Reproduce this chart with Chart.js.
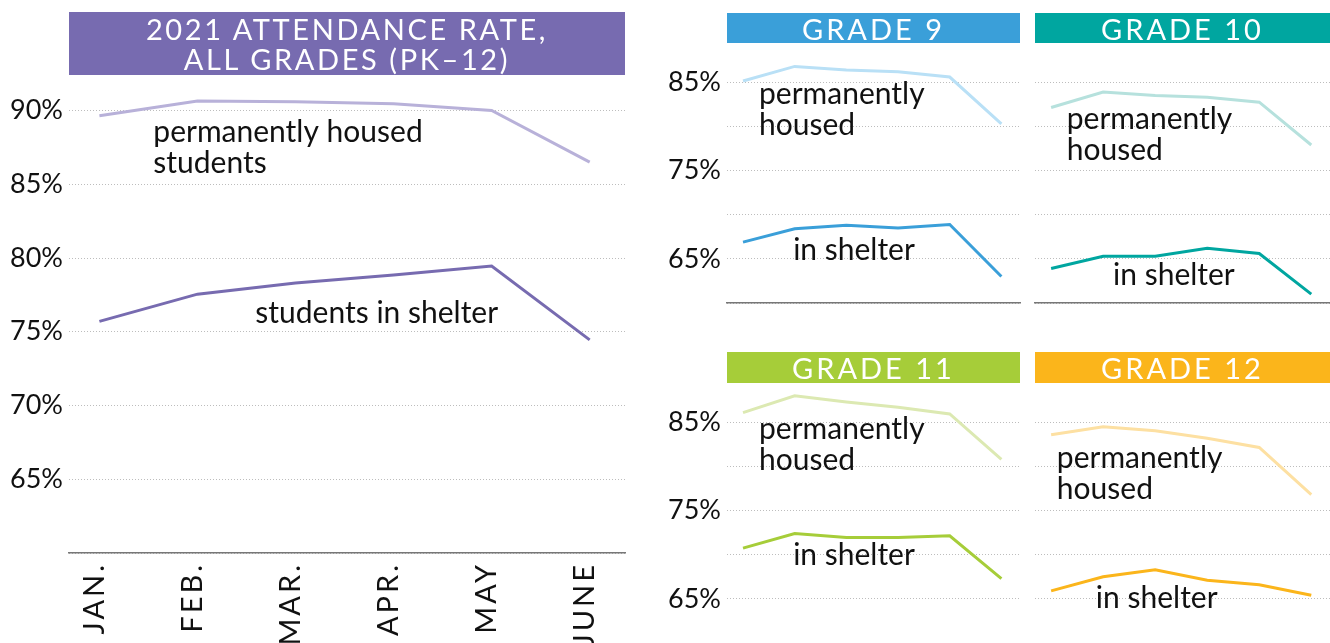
<!DOCTYPE html>
<html><head><meta charset="utf-8">
<script src="https://cdn.jsdelivr.net/npm/chart.js@4.4.1/dist/chart.umd.min.js"></script>
<style>
body{margin:0;width:1330px;height:643px;overflow:hidden;background:#fff;position:relative;font-family:Lato,"Open Sans",sans-serif}
canvas{position:absolute}
.hdr{position:absolute;color:#fff;text-align:center;font-family:Lato,sans-serif;font-size:29px;letter-spacing:3px;z-index:2;display:flex;align-items:center;justify-content:center;box-sizing:border-box}
</style></head><body>
<div class="hdr" style="left:69px;top:12px;width:556px;height:63px;background:#776bb0;line-height:30px;letter-spacing:2.6px">2021 ATTENDANCE RATE,<br>ALL GRADES (PK–12)</div>
<div class="hdr" style="left:727px;top:13px;width:293px;height:30px;background:#3a9fd9">GRADE 9</div>
<div class="hdr" style="left:1035px;top:13px;width:295px;height:30px;background:#00a6a0">GRADE 10</div>
<div class="hdr" style="left:727px;top:352px;width:293px;height:31px;background:#a6cd39">GRADE 11</div>
<div class="hdr" style="left:1035px;top:352px;width:295px;height:31px;background:#fbb51b">GRADE 12</div>

<canvas id="cAll" width="640" height="643" style="left:0;top:0"></canvas>
<canvas id="c9" width="370" height="330" style="left:660px;top:0"></canvas>
<canvas id="c10" width="300" height="330" style="left:1030px;top:0"></canvas>
<canvas id="c11" width="370" height="330" style="left:660px;top:340px"></canvas>
<canvas id="c12" width="300" height="330" style="left:1030px;top:340px"></canvas>

<script>
// ---- data ----
const months = ['JAN.', 'FEB.', 'MAR.', 'APR.', 'MAY', 'JUNE'];
const allHoused  = [89.65, 90.65, 90.6, 90.45, 90.0, 86.5];
const allShelter = [75.7, 77.55, 78.3, 78.85, 79.45, 74.45];
const g9Housed   = [85.15, 86.8, 86.4, 86.2, 85.6, 80.3];
const g9Shelter  = [66.9, 68.4, 68.8, 68.5, 68.9, 63.0];
const g10Housed  = [82.15, 83.9, 83.5, 83.3, 82.75, 77.9];
const g10Shelter = [63.9, 65.3, 65.3, 66.2, 65.6, 61.0];
const g11Housed  = [86.1, 88.0, 87.3, 86.7, 85.95, 80.8];
const g11Shelter = [70.75, 72.4, 71.95, 71.95, 72.15, 67.3];
const g12Housed  = [83.6, 84.5, 84.05, 83.2, 82.15, 76.8];
const g12Shelter = [65.9, 67.5, 68.3, 67.1, 66.6, 65.4];
const allTickLabels = [65, 70, 75, 80, 85, 90];
const gradeTickLabels = [65, 75, 85];

const FONT = 'Lato, "Open Sans", sans-serif';

const annotPlugin = {
  id: 'annot',
  afterDatasetsDraw(chart) {
    const items = chart.config.options.annotItems || [];
    const {ctx, scales: {x, y}} = chart;
    ctx.save();
    ctx.font = '30px ' + FONT;
    ctx.fillStyle = '#111';
    ctx.textBaseline = 'middle';
    ctx.textAlign = 'left';
    items.forEach(it => {
      const px = x.getPixelForValue(it.x), py = y.getPixelForValue(it.y);
      it.lines.forEach((l, i) => ctx.fillText(l, px, py + i * 30.5));
    });
    ctx.restore();
  }
};

function toPts(arr) { return arr.map((v, i) => ({x: i, y: v})); }

function makeChart(id, cfg) {
  new Chart(document.getElementById(id), {
    type: 'line',
    data: {
      datasets: [
        {data: toPts(cfg.housed), borderColor: cfg.light, borderWidth: 3, pointRadius: 0, tension: 0},
        {data: toPts(cfg.shelter), borderColor: cfg.dark, borderWidth: 3, pointRadius: 0, tension: 0}
      ]
    },
    options: {
      responsive: false, animation: false, devicePixelRatio: 1,
      annotItems: cfg.annots,
      layout: {padding: {top: cfg.padTop, right: cfg.padRight, left: 0, bottom: 0}},
      plugins: {legend: {display: false}, tooltip: {enabled: false}},
      scales: {
        x: {
          type: 'linear', min: -0.31, max: 5.36,
          afterBuildTicks: s => { s.ticks = months.map((m, i) => ({value: i})); },
          afterFit: s => {
            s.height = cfg.xHeight;
            if (!s._spaced) {
              s._spaced = true;
              const proto = Object.getPrototypeOf(s);
              s.drawLabels = function (area) {
                const c = this.ctx; c.save(); c.letterSpacing = '3px';
                proto.drawLabels.call(this, area); c.restore();
              };
            }
          },
          grid: {display: false, drawTicks: false},
          border: {display: cfg.showBorder, color: '#777', width: 1.5},
          ticks: {
            display: cfg.showX, minRotation: 90, maxRotation: 90, padding: 9, labelOffset: -5,
            color: '#111', font: {family: FONT, size: 29},
            callback: v => months[v]
          }
        },
        y: {
          min: 60, max: cfg.yMax,
          afterBuildTicks: s => { const t = []; for (let v = 60; v <= cfg.yMax; v += 5) t.push({value: v}); s.ticks = t; },
          afterFit: s => { s.width = cfg.yWidth; },
          grid: {color: '#bdbdbd', lineWidth: 1, drawTicks: false},
          border: {display: false, dash: [1, 2]},
          ticks: {
            display: cfg.showY, padding: 6, color: '#111', font: {family: FONT, size: 27},
            callback: v => cfg.tickLabels.includes(v) ? v + '%' : ''
          }
        }
      }
    },
    plugins: [annotPlugin]
  });
}

makeChart('cAll', {
  housed: allHoused, shelter: allShelter, light: '#b8b1d9', dark: '#776bb0',
  yMax: 92, padTop: 81, padRight: 15, yWidth: 69, xHeight: 90,
  showX: true, showY: true, showBorder: true, tickLabels: allTickLabels,
  annots: [
    {x: 0.55, y: 88.5, lines: ['permanently housed', 'students']},
    {x: 1.59, y: 76.25, lines: ['students in shelter']}
  ]
});
makeChart('c9', {
  housed: g9Housed, shelter: g9Shelter, light: '#b9e0f6', dark: '#3a9fd9',
  yMax: 89, padTop: 47, padRight: 10, yWidth: 67, xHeight: 27,
  showX: false, showY: true, showBorder: true, tickLabels: gradeTickLabels,
  annots: [
    {x: 0.31, y: 83.6, lines: ['permanently', 'housed']},
    {x: 0.97, y: 66.0, lines: ['in shelter']}
  ]
});
makeChart('c10', {
  housed: g10Housed, shelter: g10Shelter, light: '#b6e1dd', dark: '#00a6a0',
  yMax: 89, padTop: 47, padRight: 0, yWidth: 5, xHeight: 27,
  showX: false, showY: false, showBorder: true, tickLabels: gradeTickLabels,
  annots: [
    {x: 0.3, y: 80.8, lines: ['permanently', 'housed']},
    {x: 1.19, y: 63.15, lines: ['in shelter']}
  ]
});
makeChart('c11', {
  housed: g11Housed, shelter: g11Shelter, light: '#dce9b2', dark: '#a6cd39',
  yMax: 89, padTop: 47, padRight: 10, yWidth: 67, xHeight: 27,
  showX: false, showY: true, showBorder: false, tickLabels: gradeTickLabels,
  annots: [
    {x: 0.31, y: 84.2, lines: ['permanently', 'housed']},
    {x: 0.97, y: 69.9, lines: ['in shelter']}
  ]
});
makeChart('c12', {
  housed: g12Housed, shelter: g12Shelter, light: '#fde0a2', dark: '#fbb51b',
  yMax: 89, padTop: 47, padRight: 0, yWidth: 5, xHeight: 27,
  showX: false, showY: false, showBorder: false, tickLabels: gradeTickLabels,
  annots: [
    {x: 0.11, y: 80.9, lines: ['permanently', 'housed']},
    {x: 0.86, y: 65.1, lines: ['in shelter']}
  ]
});
</script>
</body></html>
